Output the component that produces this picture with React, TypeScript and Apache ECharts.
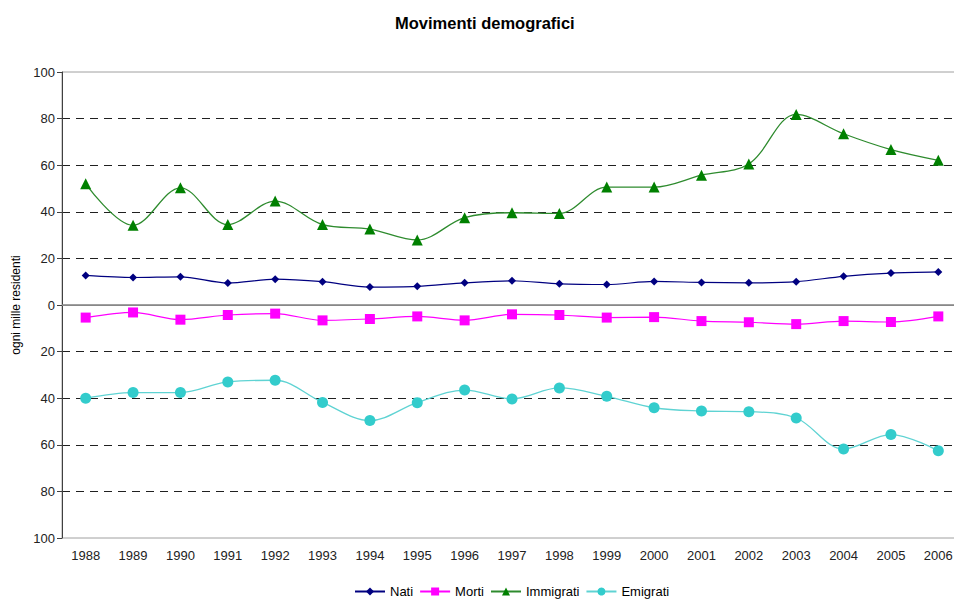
import React, { useEffect, useRef } from "react";
import * as echarts from "echarts";

const years = ["1988","1989","1990","1991","1992","1993","1994","1995","1996","1997","1998","1999","2000","2001","2002","2003","2004","2005","2006"];
const nati = [12.7,11.8,12.1,9.4,11.1,10.0,7.7,8.0,9.5,10.4,9.1,8.8,10.1,9.7,9.5,10.0,12.3,13.7,14.2];
const morti = [-5.4,-3.2,-6.3,-4.3,-3.7,-6.6,-6.0,-4.9,-6.6,-4.0,-4.3,-5.4,-5.2,-6.9,-7.4,-8.2,-6.9,-7.3,-4.9];
const immigrati = [52.0,34.2,50.3,34.5,44.6,34.5,32.6,27.9,37.5,39.6,39.3,50.6,50.6,55.7,60.5,81.8,73.5,66.7,62.1];
const emigrati = [-40.0,-37.6,-37.6,-33.0,-32.3,-41.8,-49.6,-41.9,-36.5,-40.3,-35.6,-39.2,-44.1,-45.5,-45.8,-48.5,-61.8,-55.6,-62.6];

export default function App() {
  const ref = useRef<HTMLDivElement>(null);
  useEffect(() => {
    document.body.style.margin = "0";
    const chart = echarts.init(ref.current!, null, { renderer: "svg" });
    const font = "Liberation Sans, Arial, sans-serif";
    chart.setOption({
      animation: false,
      backgroundColor: "#ffffff",
      title: {
        text: "Movimenti demografici",
        left: 395,
        top: 14,
        textStyle: { fontFamily: font, fontSize: 16.5, fontWeight: "bold", color: "#000" },
        padding: 0,
      },
      legend: {
        bottom: 1,
        left: 354,
        padding: 0,
        itemWidth: 30,
        itemHeight: 10,
        itemGap: 6,
        textStyle: { fontFamily: font, fontSize: 13, color: "#000" },
        data: ["Nati", "Morti", "Immigrati", "Emigrati"],
      },
      grid: {
        left: 62,
        top: 72,
        bottom: 61,
        right: 0,
        show: true,
        borderColor: "#a0a0a0",
        borderWidth: 1,
      },
      xAxis: {
        type: "category",
        data: years,
        boundaryGap: true,
        axisLine: { lineStyle: { color: "#a0a0a0" } },
        axisTick: { show: false },
        axisLabel: { fontFamily: font, fontSize: 13, color: "#222", margin: 11 },
      },
      yAxis: {
        type: "value",
        min: -100,
        max: 100,
        interval: 20,
        name: "ogni mille residenti",
        nameLocation: "middle",
        nameGap: 39,
        nameTextStyle: { fontFamily: font, fontSize: 12, color: "#000" },
        axisLine: { show: true, lineStyle: { color: "#404040" } },
        axisTick: { show: true, length: 5, lineStyle: { color: "#404040" } },
        axisLabel: {
          fontFamily: font,
          fontSize: 13,
          color: "#222",
          margin: 7,
          formatter: (v: number) => String(Math.abs(v)),
        },
        splitLine: {
          show: true,
          showMinLine: false,
          showMaxLine: false,
          lineStyle: { color: "#202020", type: [8, 6], width: 1 },
        },
      },
      series: [
        {
          name: "Nati",
          type: "line",
          data: nati,
          smooth: 0.3,
          symbol: "diamond",
          symbolSize: 8,
          itemStyle: { color: "#000080" },
          lineStyle: { color: "#000080", width: 1.2 },
          markLine: {
            silent: true,
            symbol: "none",
            label: { show: false },
            lineStyle: { color: "#808080", type: "solid", width: 1.5 },
            data: [{ yAxis: 0 }],
          },
          z: 4,
        },
        {
          name: "Morti",
          type: "line",
          data: morti,
          smooth: 0.3,
          symbol: "rect",
          symbolSize: 10,
          itemStyle: { color: "#ff00ff" },
          lineStyle: { color: "#ff00ff", width: 1.2 },
          z: 3,
        },
        {
          name: "Immigrati",
          type: "line",
          data: immigrati,
          smooth: 0.35,
          symbol: "triangle",
          symbolSize: 11,
          itemStyle: { color: "#008000" },
          lineStyle: { color: "#2e8b2e", width: 1.3 },
          z: 3,
        },
        {
          name: "Emigrati",
          type: "line",
          data: emigrati,
          smooth: 0.35,
          symbol: "circle",
          symbolSize: 11,
          itemStyle: { color: "#33cccc" },
          lineStyle: { color: "#5fd3d3", width: 1.3 },
          z: 3,
        },
      ],
    });
    return () => chart.dispose();
  }, []);
  return (
    <div style={{ width: 954, height: 599, overflow: "hidden", position: "relative" }}>
      <div ref={ref} style={{ width: 962, height: 599, position: "absolute", left: 0, top: 0 }} />
    </div>
  );
}
